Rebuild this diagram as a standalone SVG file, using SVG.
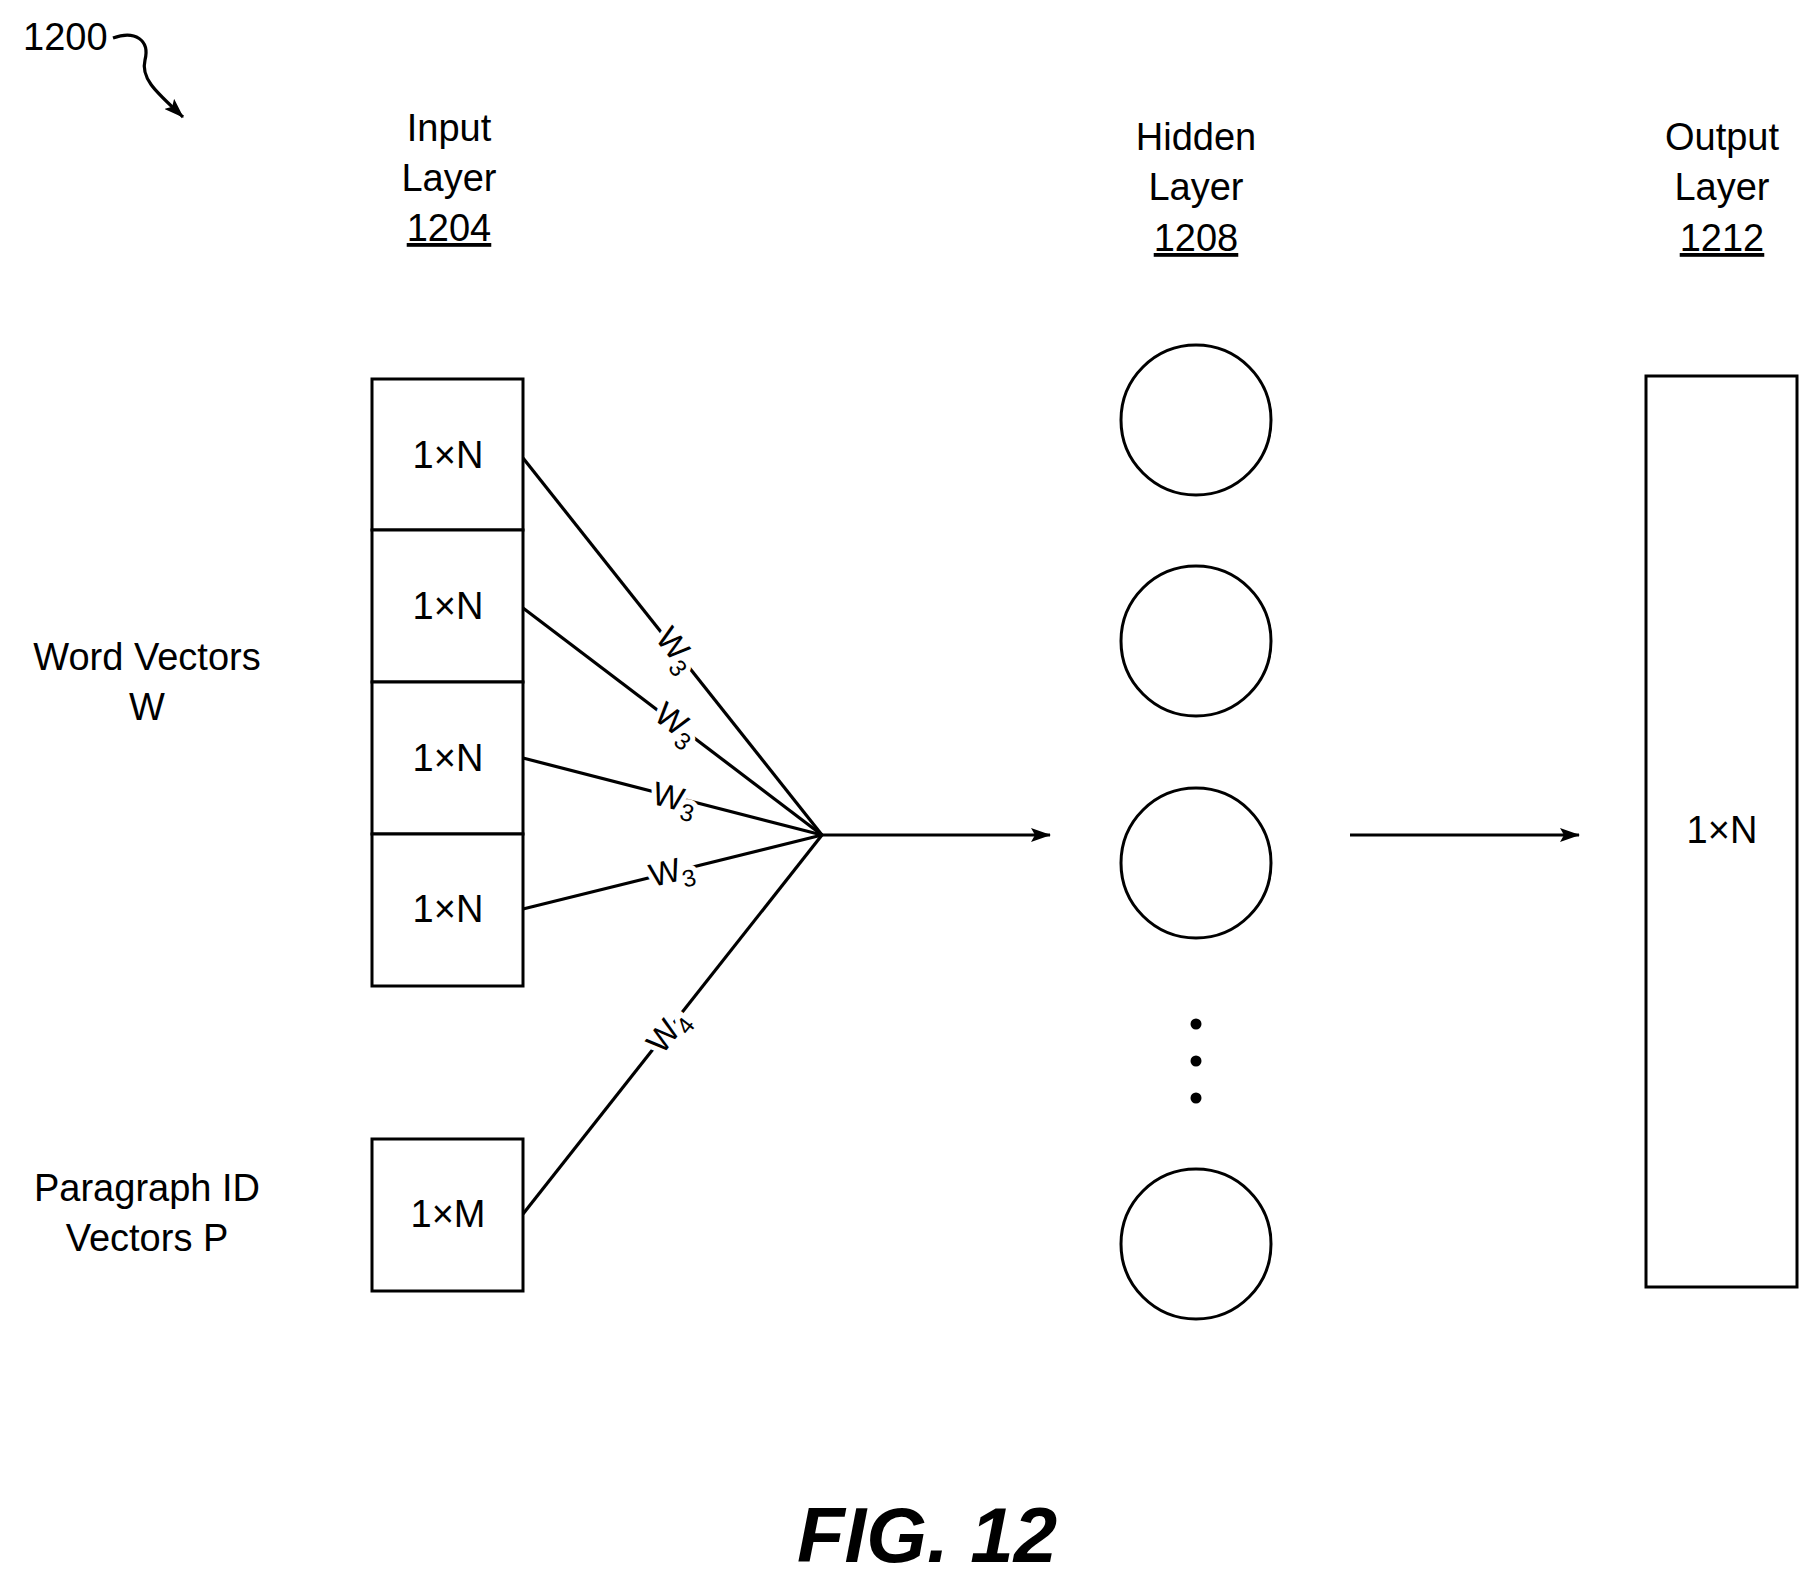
<svg xmlns="http://www.w3.org/2000/svg" width="1819" height="1579" viewBox="0 0 1819 1579">
<defs>
<style>
text{font-family:"Liberation Sans",Arial,sans-serif;fill:#000}
.t{font-size:38px;text-anchor:middle}
.b{fill:#fff;stroke:#000;stroke-width:3}
.l{stroke:#000;stroke-width:3.2;fill:none}
.w{font-size:33px;text-anchor:middle;stroke:#fff;stroke-width:10;paint-order:stroke}
</style>
<marker id="a" markerWidth="20" markerHeight="14" refX="19" refY="7" orient="auto" markerUnits="userSpaceOnUse"><path d="M0,0 L20,7 L0,14 L4,7 Z" fill="#000"/></marker>
</defs>
<rect width="1819" height="1579" fill="#fff"/>
<text x="23" y="50" style="font-size:38px">1200</text>
<path class="l" d="M113,38 C135,30 150,40 145,60 C140,80 160,95 183,117" marker-end="url(#a)"/>
<g id="titles">
<text class="t" x="449" y="141">Input</text><text class="t" x="449" y="191">Layer</text><text class="t" x="449" y="241" text-decoration="underline">1204</text>
<text class="t" x="1196" y="150">Hidden</text><text class="t" x="1196" y="200">Layer</text><text class="t" x="1196" y="251" text-decoration="underline">1208</text>
<text class="t" x="1722" y="150">Output</text><text class="t" x="1722" y="200">Layer</text><text class="t" x="1722" y="251" text-decoration="underline">1212</text>
<text class="t" x="147" y="670">Word Vectors</text><text class="t" x="147" y="720">W</text>
<text class="t" x="147" y="1201">Paragraph ID</text><text class="t" x="147" y="1251">Vectors P</text>
<text x="927" y="1562" style="font-size:78px;font-weight:bold;font-style:italic;text-anchor:middle">FIG. 12</text>
</g>
<g id="connectors">
<line class="l" x1="523" y1="458" x2="822" y2="835"/>
<line class="l" x1="523" y1="608" x2="822" y2="835"/>
<line class="l" x1="523" y1="758" x2="822" y2="835"/>
<line class="l" x1="523" y1="909" x2="822" y2="835"/>
<line class="l" x1="523" y1="1214" x2="822" y2="835"/>
<line class="l" x1="822" y1="835" x2="1050" y2="835" marker-end="url(#a)"/>
<line class="l" x1="1350" y1="835" x2="1579" y2="835" marker-end="url(#a)"/>
<text class="w" transform="translate(668,656) rotate(51.6)">W<tspan font-size="24" dy="8">3</tspan></text>
<text class="w" transform="translate(670,732) rotate(37.2)">W<tspan font-size="24" dy="8">3</tspan></text>
<text class="w" transform="translate(672,809) rotate(14.4)">W<tspan font-size="24" dy="8">3</tspan></text>
<text class="w" transform="translate(674,882) rotate(-13.9)">W<tspan font-size="24" dy="8">3</tspan></text>
<text class="w" transform="translate(676,1038) rotate(-51.7)">W<tspan font-size="24" dy="8">4</tspan></text>
</g>
<g id="input-w">
<rect class="b" x="372" y="379" width="151" height="151"/><text class="t" x="448" y="468">1×N</text>
<rect class="b" x="372" y="530" width="151" height="152"/><text class="t" x="448" y="619">1×N</text>
<rect class="b" x="372" y="682" width="151" height="152"/><text class="t" x="448" y="771">1×N</text>
<rect class="b" x="372" y="834" width="151" height="152"/><text class="t" x="448" y="922">1×N</text>
</g>
<g id="input-p"><rect class="b" x="372" y="1139" width="151" height="152"/><text class="t" x="448" y="1227">1×M</text></g>
<g id="hidden">
<circle class="b" cx="1196" cy="420" r="75"/>
<circle class="b" cx="1196" cy="641" r="75"/>
<circle class="b" cx="1196" cy="863" r="75"/>
<circle class="b" cx="1196" cy="1244" r="75"/>
<circle cx="1196" cy="1024" r="5.5"/><circle cx="1196" cy="1061" r="5.5"/><circle cx="1196" cy="1098" r="5.5"/>
</g>
<g id="output"><rect class="b" x="1646" y="376" width="151" height="911"/><text class="t" x="1722" y="843">1×N</text></g>
</svg>
